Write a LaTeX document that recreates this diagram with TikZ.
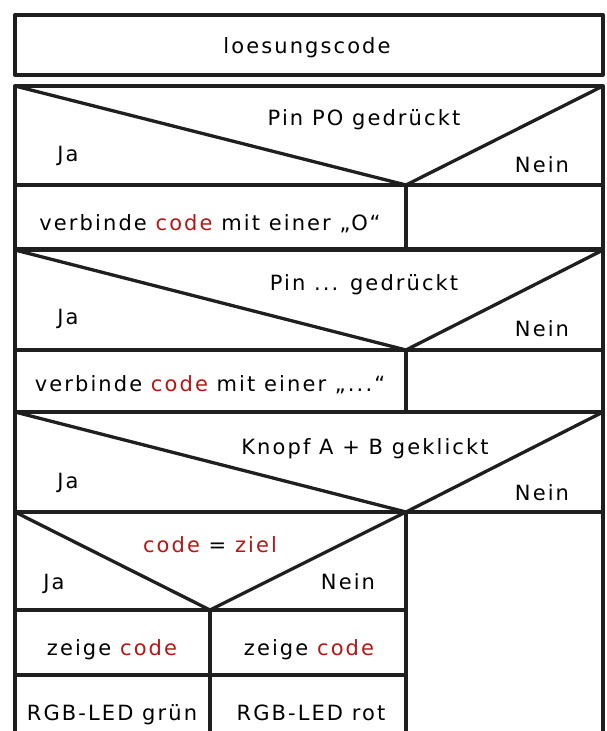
\documentclass[tikz,border=0pt]{standalone}
\usepackage{fontspec}
\setmainfont{DejaVu Sans}[LetterSpace=10]
\definecolor{codered}{RGB}{183,22,22}
\newcommand{\kw}[1]{\textcolor{codered}{#1}}
\begin{document}
\begin{tikzpicture}[x=1pt,y=-1pt,
  box/.style={line width=3.3pt, line cap=round, line join=round, draw=black!88},
  lbl/.style={font=\fontsize{21}{25}\selectfont, inner sep=0pt, anchor=base}]
\useasboundingbox (0,0) rectangle (606,731);
\clip (0,0) rectangle (606,731);
% title box
\draw[box] (15,15) rectangle (603,75);
\node[lbl] (title) at (307,53) {loesungscode};
% decision 1
\draw[box] (15,86) rectangle (603,185);
\draw[box] (15,86) -- (406,185) -- (603,86);
\node[lbl] (c1) at (364,125) {Pin PO gedrückt};
\node[lbl] (ja1) at (68,161) {Ja};
\node[lbl] (nein1) at (542,172) {Nein};
% row 1
\draw[box] (15,185) rectangle (603,249);
\draw[box] (406,185) -- (406,249);
\node[lbl] (a1) at (210,230) {verbinde \kw{code} mit einer „O“};
% decision 2
\draw[box] (15,250) rectangle (603,350);
\draw[box] (15,250) -- (406,350) -- (603,250);
\node[lbl] (c2) at (364,290) {Pin ... gedrückt};
\node[lbl] (ja2) at (68,324) {Ja};
\node[lbl] (nein2) at (542,336) {Nein};
% row 2
\draw[box] (15,350) rectangle (603,412);
\draw[box] (406,350) -- (406,412);
\node[lbl] (a2) at (210,391) {verbinde \kw{code} mit einer „...“};
% decision 3
\draw[box] (15,412) rectangle (603,512);
\draw[box] (15,412) -- (406,512) -- (603,412);
\node[lbl] (c3) at (365,454) {Knopf A + B geklickt};
\node[lbl] (ja3) at (68,488) {Ja};
\node[lbl] (nein3) at (542,500) {Nein};
% lower frame
\draw[box] (15,512) -- (603,512);
\draw[box] (15,512) -- (15,740);
\draw[box] (406,512) -- (406,740);
\draw[box] (603,512) -- (603,740);
% decision 4
\draw[box] (15,512) -- (210,610) -- (406,512);
\draw[box] (15,610) -- (406,610);
\node[lbl] (c4) at (210,552) {\kw{code} = \kw{ziel}};
\node[lbl] (ja4) at (54,589) {Ja};
\node[lbl] (nein4) at (348,589) {Nein};
% rows 4,5
\draw[box] (210,610) -- (210,740);
\draw[box] (15,675) -- (406,675);
\node[lbl] (z1) at (112,655) {zeige \kw{code}};
\node[lbl] (z2) at (309,655) {zeige \kw{code}};
\node[lbl] (g1) at (112,720) {RGB-LED grün};
\node[lbl] (g2) at (311,720) {RGB-LED rot};
\end{tikzpicture}
\end{document}
